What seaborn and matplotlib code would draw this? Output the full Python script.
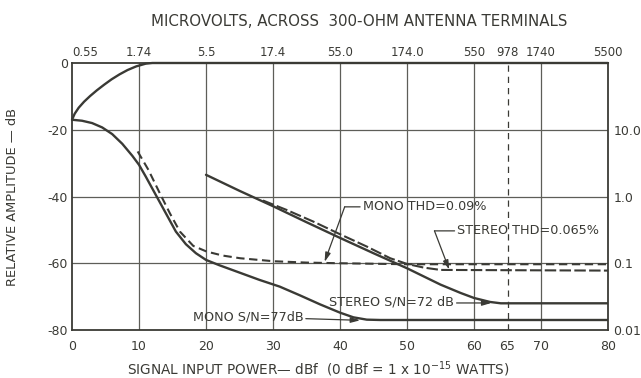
import matplotlib
matplotlib.use("Agg")
import matplotlib.pyplot as plt
import seaborn as sns
import numpy as np

# ---------------- data ----------------
dbf_ticks = [0, 10, 20, 30, 40, 50, 60, 65, 70, 80]
uv_labels = ["0.55", "1.74", "5.5", "17.4", "55.0", "174.0", "550", "978", "1740", "5500"]
db_ticks = [0, -20, -40, -60, -80]
thd_pct_ticks = [10.0, 1.0, 0.1, 0.01]
thd_pct_labels = ["10.0", "1.0", "0.1", "0.01"]
grid_x = [10, 20, 30, 40, 50, 60, 70]
grid_y = [-20, -40, -60]
dashed_x = [65]

level_x = [0, 0.4, 1.0, 1.8, 2.7, 3.7, 4.8, 5.9, 7.1, 8.3, 9.6, 11, 12, 80]
level_y = [-17, -15.2, -13.4, -11.6, -9.9, -8.2, -6.5, -4.9, -3.4, -2.1, -1.0, -0.2, 0, 0]

mono_sn_x = [0, 1.5, 3, 4.5, 6, 7.5, 9, 10, 11, 12.5, 14, 15.5, 17, 18.5, 20, 22,
             25, 28, 31, 34, 37, 40, 42, 44, 46, 80]
mono_sn_y = [-17, -17.3, -18, -19.3, -21.3, -24.2, -27.8, -30.5, -34, -39.5, -45,
             -50.5, -54.3, -57, -59, -60.6, -62.8, -65, -67, -69.6, -72.3, -74.8,
             -76.2, -76.9, -77, -77]

mono_thd_x = [9.8, 11.4, 13.1, 14.6, 16.1, 18.1, 20.1, 22.5, 25.1, 30.1, 35, 40, 50, 80]
mono_thd_y = [-26.5, -32, -39, -45, -50.5, -54.8, -56.5, -57.7, -58.5, -59.4, -59.8,
              -60, -60.3, -60.3]

stereo_sn_x = [20, 25, 30, 35, 40, 45, 50, 55, 58, 60, 62.4, 64, 80]
stereo_sn_y = [-33.5, -38.3, -42.9, -47.7, -52.4, -57, -61.5, -66.4, -68.9, -70.4,
               -71.6, -72, -72]

stereo_thd_x = [28.5, 32, 36, 40, 44, 47.5, 50, 52.5, 55, 80]
stereo_thd_y = [-41.2, -44, -47.5, -51.3, -55, -58.5, -60.2, -61.3, -62, -62.2]

# ---------------- style ----------------
sns.set_style("white")
plt.rcParams["font.family"] = ["DejaVu Sans"]
INK = "#3a3a35"
GRID = "#5e5e58"

fig = plt.figure(figsize=(6.41, 3.78), dpi=100)
W, H = 641, 378
ax = fig.add_axes([72 / W, (H - 330) / H, 536 / W, 267 / H])

# grid
for gx in grid_x:
    ax.axvline(gx, color=GRID, lw=0.9, zorder=1)
for gy in grid_y:
    ax.axhline(gy, color=GRID, lw=0.9, zorder=1)
for dx in dashed_x:
    ax.axvline(dx, color=INK, lw=0.9, linestyle=(0, (5, 4)), zorder=1)

# curves
common = dict(ax=ax, color=INK, sort=False, estimator=None, legend=False)
sns.lineplot(x=level_x, y=level_y, lw=1.7, clip_on=False, zorder=3, **common)
sns.lineplot(x=mono_sn_x, y=mono_sn_y, lw=1.7, zorder=3, **common)
sns.lineplot(x=stereo_sn_x, y=stereo_sn_y, lw=1.7, zorder=3, **common)
sns.lineplot(x=mono_thd_x, y=mono_thd_y, lw=1.5, linestyle=(0, (4, 2.2)), zorder=3, **common)
sns.lineplot(x=stereo_thd_x, y=stereo_thd_y, lw=1.5, linestyle=(0, (5.5, 1.6)), zorder=3, **common)

ax.set_xlim(0, 80)
ax.set_ylim(-80, 0)

# axes / ticks
ax.set_xticks(dbf_ticks)
ax.set_xticklabels([str(v) for v in dbf_ticks])
ax.set_yticks(db_ticks)
ax.set_yticklabels([str(v) for v in db_ticks])
ax.tick_params(axis="x", length=0, pad=7, labelsize=9, colors=INK)
ax.tick_params(axis="y", length=0, pad=3, labelsize=9, colors=INK)
for s in ax.spines.values():
    s.set_color(INK)
    s.set_linewidth(1.3)

top = ax.secondary_xaxis("top")
top.set_xticks(dbf_ticks)
top.set_xticklabels(uv_labels)
top.tick_params(length=0, pad=3, labelsize=8.5, colors=INK)
top.spines["top"].set_visible(False)
top.get_xticklabels()[0].set_horizontalalignment("left")

right = ax.secondary_yaxis("right")
right.set_yticks([20 * np.log10(v) - 40 for v in thd_pct_ticks])
right.set_yticklabels(thd_pct_labels)
right.tick_params(length=0, pad=4, labelsize=9, colors=INK)
right.spines["right"].set_visible(False)

ax.set_ylabel("RELATIVE AMPLITUDE — dB", fontsize=9.4, color=INK)
ax.yaxis.set_label_coords(-(72 - 19) / 536, 0.5)
ax.set_xlabel("SIGNAL INPUT POWER— dBf  (0 dBf = 1 x 10$^{-15}$ WATTS)", fontsize=9.8, color=INK)
ax.xaxis.set_label_coords((318 - 72) / 536, -(359 - 330) / 267)
fig.text(359 / W, 1 - 21 / H, "MICROVOLTS, ACROSS  300-OHM ANTENNA TERMINALS",
         ha="center", va="center", fontsize=10.8, color=INK)

# annotations
fs = 9.2
head = dict(arrowstyle="-|>,head_length=0.55,head_width=0.16", color=INK, lw=0.9,
            shrinkA=0, shrinkB=0)
plain = dict(arrowstyle="-", color=INK, lw=0.9, shrinkA=0, shrinkB=0)

ax.text(43.4, -43.1, "MONO THD=0.09%", ha="left", va="center", fontsize=fs, color=INK)
ax.annotate("", xy=(40.7, -43.1), xytext=(43.0, -43.1), arrowprops=plain)
ax.annotate("", xy=(37.7, -59.6), xytext=(40.7, -43.1), arrowprops=head)

ax.text(57.4, -50.3, "STEREO THD=0.065%", ha="left", va="center", fontsize=fs, color=INK)
ax.annotate("", xy=(54.1, -50.3), xytext=(57.1, -50.3), arrowprops=plain)
ax.annotate("", xy=(56.3, -61.9), xytext=(54.1, -50.3), arrowprops=head)

ax.text(57.0, -71.5, "STEREO S/N=72 dB", ha="right", va="center", fontsize=fs, color=INK)
ax.annotate("", xy=(62.6, -71.9), xytext=(57.4, -71.9), arrowprops=head)

ax.text(34.5, -76.2, "MONO S/N=77dB", ha="right", va="center", fontsize=fs, color=INK)
ax.annotate("", xy=(43.0, -77.1), xytext=(34.9, -76.6), arrowprops=head)

fig.savefig("out.png", dpi=100, facecolor="white")
